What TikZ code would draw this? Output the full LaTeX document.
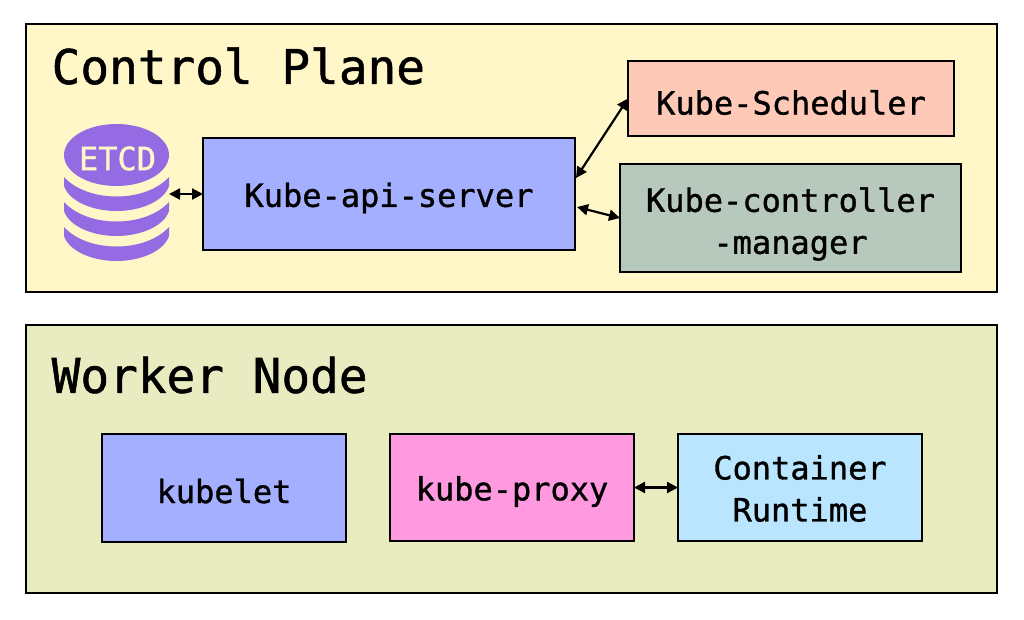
\documentclass[tikz,border=0pt]{standalone}
\usepackage{fontspec}
\setmonofont[RawFeature={embolden=1.1}]{DejaVu Sans Mono}
\usetikzlibrary{arrows.meta}
\definecolor{cpbg}{HTML}{FFF7C7}
\definecolor{wnbg}{HTML}{E9EBC1}
\definecolor{blueb}{HTML}{A5AFFF}
\definecolor{schedb}{HTML}{FFC9B8}
\definecolor{ctrlb}{HTML}{B7C9BC}
\definecolor{proxyb}{HTML}{FF99E0}
\definecolor{rtb}{HTML}{BAE5FF}
\definecolor{etcdc}{HTML}{946BE3}
\tikzset{
  panel/.style={draw=black,line width=2.2pt,inner sep=0pt,outer sep=0pt,anchor=north west},
  box/.style={draw=black,line width=2.2pt,inner sep=0pt,outer sep=0pt},
  boxtext/.style={inner sep=0pt,align=center,yshift=-4pt,font=\fontsize{32}{42}\selectfont\ttfamily},
  title/.style={inner sep=0pt,anchor=west,font=\fontsize{47.7}{50}\selectfont\ttfamily},
  conn/.style={line width=2.2pt,{Triangle[length=11pt,width=11pt]}-{Triangle[length=11pt,width=11pt]}},
  bandfill/.style={fill=etcdc,draw=none}
}
\begin{document}
\begin{tikzpicture}[x=1pt,y=-1pt]
\useasboundingbox (0,0) rectangle (1024,619);
% panels
\node[panel,fill=cpbg,minimum width=971pt,minimum height=268pt] (cp) at (26,24) {};
\node[panel,fill=wnbg,minimum width=971pt,minimum height=268pt] (wn) at (26,325) {};
\node[title] (cpt) at (51.5,66) {Control Plane};
\node[title] (wnt) at (51.5,375) {Worker Node};
% boxes
\node[box,fill=blueb,minimum width=372pt,minimum height=112pt,label={[boxtext]center:Kube-api-server}] (api) at (389,194) {};
\node[box,fill=schedb,minimum width=326pt,minimum height=75pt,label={[boxtext]center:Kube-Scheduler}] (sched) at (791,98.5) {};
\node[box,fill=ctrlb,minimum width=341pt,minimum height=108pt,label={[boxtext,yshift=-2pt]center:Kube-controller\\-manager}] (ctrl) at (790.5,218) {};
\node[box,fill=blueb,minimum width=244pt,minimum height=108pt,label={[boxtext,yshift=1pt]center:kubelet}] (kubelet) at (224,488) {};
\node[box,fill=proxyb,minimum width=244pt,minimum height=107pt,label={[boxtext]center:kube-proxy}] (proxy) at (512,487.5) {};
\node[box,fill=rtb,minimum width=244pt,minimum height=107pt,label={[boxtext,yshift=3pt]center:Container\\Runtime}] (rt) at (800,487.5) {};
% etcd icon
\node[inner sep=0pt,outer sep=0pt,minimum width=105pt,minimum height=138pt] (etcd) at (116.5,194) {};
\fill[etcdc] (116.5,155) ellipse [x radius=52.5,y radius=31];
\foreach \d in {0,25,50}{
  \fill[bandfill] (64,177+\d) .. controls (76,190+\d) and (96,196.5+\d) .. (116.5,196.5+\d)
     .. controls (137,196.5+\d) and (157,190+\d) .. (169,177+\d)
     -- (169,186+\d) .. controls (164,201+\d) and (141,211+\d) .. (116.5,211+\d)
     .. controls (92,211+\d) and (69,201+\d) .. (64,186+\d) -- cycle;
}
\node[inner sep=0pt,text=cpbg,font=\fontsize{32}{32}\selectfont\ttfamily] (etcdl) at (117.5,158.5) {ETCD};
% connectors
\draw[conn] (etcd.east) -- (api.west);
\draw[conn] ([yshift=16pt,xshift=1pt]api.east) -- (sched.west);
\draw[conn] ([yshift=-13pt,xshift=2pt]api.east) -- (ctrl.west);
\draw[conn] (proxy.east) -- (rt.west);
\end{tikzpicture}
\end{document}
